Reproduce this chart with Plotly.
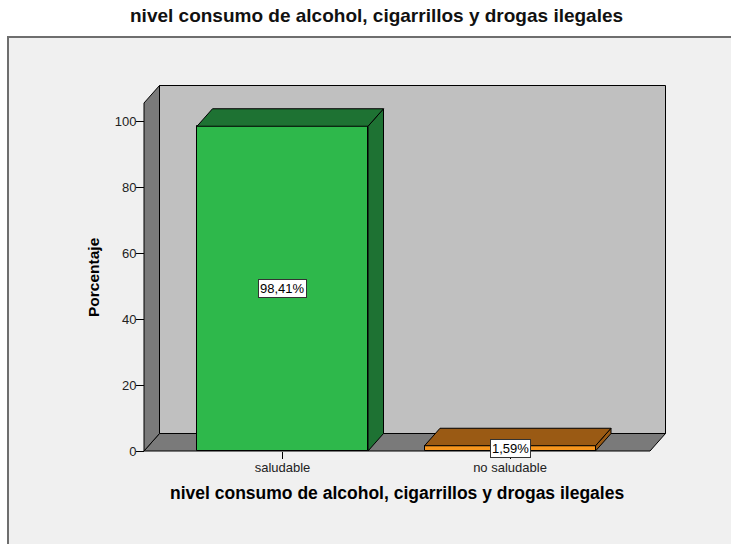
import plotly.graph_objects as go

# ---- data -------------------------------------------------------------
categories = ["saludable", "no saludable"]
percentages = [98.41, 1.59]
y_ticks = [0, 20, 40, 60, 80, 100]

front_colors = ["#2eb84b", "#f7961d"]
shade_colors = ["#1e7233", "#9a5a14"]

title_text = "nivel consumo de alcohol, cigarrillos y drogas ilegales"
y_title = "Porcentaje"

# ---- canvas / plot-area geometry (pixels) -----------------------------
W, H = 731, 544
ML, MR, MT, MB = 140, 61, 80, 89
PW, PH = W - ML - MR, H - MT - MB

PX_PER_CAT = 227.5        # pixels between category centres
PX_PER_PCT = 3.3          # pixels per percentage point
CAT0_PX = 282.5           # pixel x of first category
ZERO_PX = 451             # pixel y of value 0


def to_data_x(px):
    return (px - CAT0_PX) / PX_PER_CAT


def to_data_y(py):
    return (ZERO_PX - py) / PX_PER_PCT


def paper_x(px):
    return (px - ML) / PW


def paper_y(py):
    return (H - MB - py) / PH


# 3-D box in data units
xL, xR = to_data_x(144), to_data_x(650)
dx = 15.5 / PX_PER_CAT
dy = 17.5 / PX_PER_PCT
wall_top = to_data_y(103)
bar_w = 171 / PX_PER_CAT

x_idx = list(range(len(categories)))

fig = go.Figure()

# ---- walls and floor --------------------------------------------------
shapes = []
# outer chart frame
shapes.append(dict(type="rect", xref="paper", yref="paper",
                   x0=paper_x(8), x1=paper_x(745), y0=paper_y(560), y1=paper_y(37),
                   fillcolor="#f0f0f0", line=dict(color="#6e6e6e", width=2),
                   layer="below"))


def poly(points, fill):
    path = "M " + " L ".join(f"{x},{y}" for x, y in points) + " Z"
    return dict(type="path", xref="x", yref="y", path=path, fillcolor=fill,
                line=dict(color="#000000", width=1), layer="below")


# back wall
shapes.append(poly([(xL + dx, dy), (xR + dx, dy), (xR + dx, wall_top + dy),
                    (xL + dx, wall_top + dy)], "#c0c0c0"))
# floor
shapes.append(poly([(xL, 0), (xR, 0), (xR + dx, dy), (xL + dx, dy)], "#7a7a7a"))
# left side wall
shapes.append(poly([(xL, 0), (xL + dx, dy), (xL + dx, wall_top + dy),
                    (xL, wall_top)], "#7a7a7a"))

# ---- bar top and side faces ------------------------------------------
for i, v in zip(x_idx, percentages):
    l, r = i - bar_w / 2, i + bar_w / 2
    top = [(l, v), (r, v), (r + dx, v + dy), (l + dx, v + dy), (l, v)]
    side = [(r, 0), (r + dx, dy), (r + dx, v + dy), (r, v), (r, 0)]
    for face in (side, top):
        fig.add_trace(go.Scatter(
            x=[p[0] for p in face], y=[p[1] for p in face],
            mode="lines", fill="toself", fillcolor=shade_colors[i],
            line=dict(color="#000000", width=1), hoverinfo="skip",
            showlegend=False))

# ---- bar front faces --------------------------------------------------
fig.add_trace(go.Bar(
    x=x_idx, y=percentages, width=bar_w,
    marker=dict(color=front_colors, line=dict(color="#000000", width=1)),
    hoverinfo="skip", showlegend=False))

# ---- value labels -----------------------------------------------------
annotations = []
for i, v in zip(x_idx, percentages):
    annotations.append(dict(
        x=i, y=v / 2, xref="x", yref="y", showarrow=False,
        text=f"{v:.2f}".replace(".", ",") + "%",
        font=dict(family="Liberation Sans, Arial, sans-serif", size=13, color="#000000"),
        bgcolor="#ffffff", bordercolor="#333333", borderwidth=1, borderpad=1))

# titles
annotations.append(dict(
    x=paper_x(376), y=paper_y(16), xref="paper", yref="paper", showarrow=False,
    xanchor="center", yanchor="middle", text=title_text,
    font=dict(family="Liberation Sans, Arial, sans-serif", size=19, color="#111111",
              weight="bold")))
annotations.append(dict(
    x=paper_x(397), y=paper_y(493), xref="paper", yref="paper", showarrow=False,
    xanchor="center", yanchor="middle", text=title_text,
    font=dict(family="Liberation Sans, Arial, sans-serif", size=17.5, color="#000000",
              weight="bold")))
annotations.append(dict(
    x=paper_x(93), y=paper_y(277), xref="paper", yref="paper", showarrow=False,
    xanchor="center", yanchor="middle", text=y_title, textangle=-90,
    font=dict(family="Liberation Sans, Arial, sans-serif", size=15.5, color="#000000",
              weight="bold")))

tick_font = dict(family="Liberation Sans, Arial, sans-serif", size=13, color="#222222")

fig.update_layout(
    width=W, height=H,
    margin=dict(l=ML, r=MR, t=MT, b=MB, pad=0),
    paper_bgcolor="#ffffff", plot_bgcolor="rgba(0,0,0,0)",
    shapes=shapes, annotations=annotations,
    xaxis=dict(range=[to_data_x(ML), to_data_x(W - MR)],
               tickvals=x_idx, ticktext=categories,
               ticks="outside", ticklen=7, tickwidth=1, tickcolor="#000000",
               tickfont=tick_font, ticklabelstandoff=-3,
               showgrid=False, zeroline=False, showline=False,
               anchor="free", position=paper_y(ZERO_PX), fixedrange=True),
    yaxis=dict(range=[to_data_y(H - MB), to_data_y(MT)],
               tickvals=y_ticks, ticks="outside", ticklen=8, tickwidth=1,
               tickcolor="#000000", tickfont=tick_font, ticklabelstandoff=-3,
               showgrid=False, zeroline=False, showline=False,
               anchor="free", position=paper_x(144), fixedrange=True),
    bargap=0,
)

fig.write_html("out.html")
